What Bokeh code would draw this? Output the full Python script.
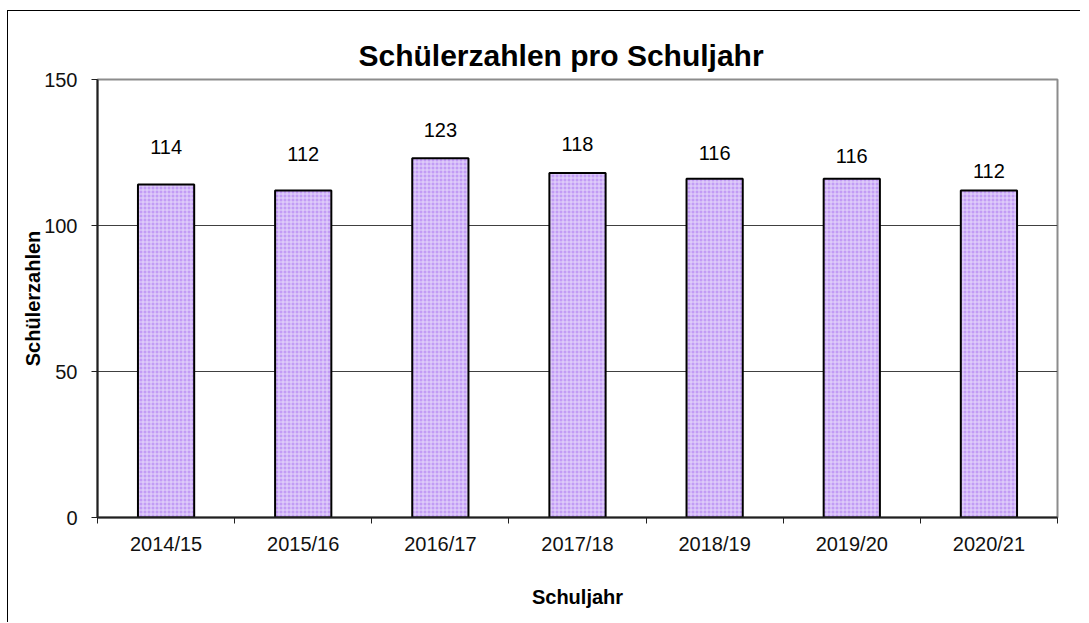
from bokeh.plotting import figure
from bokeh.models import FixedTicker, Range1d, ColumnDataSource
from bokeh.core.properties import value
from bokeh.embed import file_html
from bokeh.resources import INLINE

categories = ["2014/15", "2015/16", "2016/17", "2017/18", "2018/19", "2019/20", "2020/21"]
students = [114, 112, 123, 118, 116, 116, 112]
y_ticks = [0, 50, 100, 150]
title_text = "Schülerzahlen pro Schuljahr"
x_title = "Schuljahr"
y_title = "Schülerzahlen"

# per-label lift above bar tops (pixels, styling only)
label_lift_px = [38, 36, 28, 29, 26, 23, 19]

FONT = "Liberation Sans"
n = len(categories)
xs = list(range(n))

src = ColumnDataSource(dict(
    x=xs, top=students, lbl=[str(v) for v in students],
    yoff=[-v for v in label_lift_px],
))

p = figure(width=1073, height=612, output_backend="svg", toolbar_location=None,
           x_range=Range1d(-0.5, n - 0.5), y_range=Range1d(0, 150),
           min_border_left=89, min_border_right=24, min_border_top=68, min_border_bottom=106,
           title=title_text)
p.styles = {"border-left": "1px solid black", "border-top": "1px solid black",
            "margin-left": "7px", "margin-top": "10px"}

p.title.align = "left"
p.title.text_font = FONT
p.title.text_font_size = "30px"
p.title.text_font_style = "bold"
p.title.text_color = "black"
p.title.offset = 261
p.title.standoff = 15

p.outline_line_color = "#8c8c8c"
p.outline_line_width = 2

p.xgrid.grid_line_color = None
p.ygrid.ticker = FixedTicker(ticks=y_ticks)
p.ygrid.grid_line_color = "#404040"
p.ygrid.grid_line_width = 1

p.vbar(x="x", top="top", width=0.41, source=src,
       fill_color="#c29cf5", line_color="black", line_width=2,
       hatch_pattern="+", hatch_color="#e6d9fb", hatch_scale=4, hatch_weight=1)

p.text(x="x", y="top", text="lbl", y_offset="yoff", source=src,
       text_font=value(FONT), text_font_size="20px", text_color="black",
       text_align="center", text_baseline="middle")

xa = p.xaxis[0]
xa.ticker = FixedTicker(ticks=xs, minor_ticks=[i - 0.5 for i in range(n + 1)])
xa.major_label_overrides = {i: c for i, c in enumerate(categories)}
xa.major_tick_in = 0
xa.major_tick_out = 0
xa.minor_tick_in = 0
xa.minor_tick_out = 6
xa.minor_tick_line_color = "#202020"
xa.axis_line_color = "#202020"
xa.axis_line_width = 2
xa.major_label_text_font = FONT
xa.major_label_text_font_size = "20px"
xa.major_label_text_color = "#111111"
xa.major_label_standoff = 9
xa.axis_label = x_title
xa.axis_label_text_font = FONT
xa.axis_label_text_font_size = "20px"
xa.axis_label_text_font_style = "bold"
xa.axis_label_text_color = "black"
xa.axis_label_standoff = 28

ya = p.yaxis[0]
ya.ticker = FixedTicker(ticks=y_ticks)
ya.minor_tick_line_color = None
ya.major_tick_in = 0
ya.major_tick_out = 6
ya.major_tick_line_color = "#202020"
ya.axis_line_color = "#202020"
ya.axis_line_width = 2
ya.major_label_text_font = FONT
ya.major_label_text_font_size = "20px"
ya.major_label_text_color = "#111111"
ya.major_label_standoff = 14
ya.axis_label = y_title
ya.axis_label_text_font = FONT
ya.axis_label_text_font_size = "20px"
ya.axis_label_text_font_style = "bold"
ya.axis_label_text_color = "black"
ya.axis_label_standoff = -3

open("out.html", "w").write(file_html(p, INLINE))
